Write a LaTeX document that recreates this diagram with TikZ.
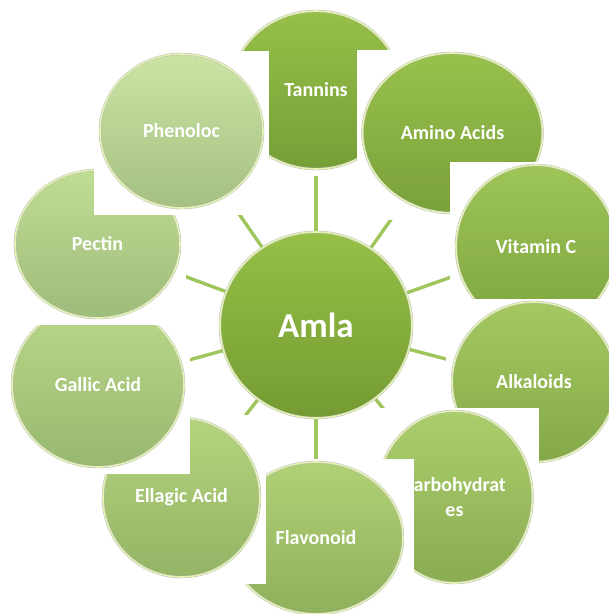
\documentclass[tikz,border=0pt]{standalone}
\usepackage{fontspec}
\setmainfont{Carlito}
\usetikzlibrary{shapes.geometric}
\pgfdeclarelayer{spokes}
\pgfsetlayers{spokes,main}

\definecolor{rim}{RGB}{228,242,180}
\definecolor{spokec}{RGB}{158,198,92}
\definecolor{amlatop}{RGB}{150,192,70}
\definecolor{amlabot}{RGB}{116,155,50}
\definecolor{tanninstop}{RGB}{150,192,72}
\definecolor{tanninsbot}{RGB}{118,158,55}
\definecolor{aminotop}{RGB}{152,193,76}
\definecolor{aminobot}{RGB}{122,160,58}
\definecolor{vitctop}{RGB}{158,197,86}
\definecolor{vitcbot}{RGB}{126,164,64}
\definecolor{alkatop}{RGB}{165,201,96}
\definecolor{alkabot}{RGB}{132,168,72}
\definecolor{carbotop}{RGB}{171,206,108}
\definecolor{carbobot}{RGB}{138,172,82}
\definecolor{flavtop}{RGB}{176,209,117}
\definecolor{flavbot}{RGB}{143,176,92}
\definecolor{ellagtop}{RGB}{180,212,126}
\definecolor{ellagbot}{RGB}{148,180,102}
\definecolor{gallictop}{RGB}{186,216,137}
\definecolor{gallicbot}{RGB}{152,184,112}
\definecolor{pectintop}{RGB}{192,221,148}
\definecolor{pectinbot}{RGB}{158,188,122}
\definecolor{phenoltop}{RGB}{203,228,163}
\definecolor{phenolbot}{RGB}{164,192,130}

\begin{document}
\begin{tikzpicture}[x=1pt,y=-1pt]
  \tikzstyle{box}=[rectangle,fill=white,inner sep=0pt]
  \tikzstyle{part}=[ellipse,draw=black!28,line width=0.4pt,double=rim,
              double distance=1.6pt,inner sep=0pt,text=white,align=center,
              font=\fontsize{20}{25}\selectfont\bfseries]
  \tikzstyle{spoke}=[draw=spokec,line width=3.4pt]
  \useasboundingbox (0,0) rectangle (609,614);

    \node [part,minimum width=192,minimum height=186,top color=amlatop,bottom color=amlabot,
           font=\fontsize{35}{40}\selectfont\bfseries] (amla) at (316,325) {Amla};

    % ring, clockwise from the top, each one over the last
    \node [box,minimum width=182,minimum height=168] (tanninsbox) at (316,92) {};
    \node [part,minimum width=170,minimum height=158,top color=tanninstop,bottom color=tanninsbot] (tannins) at (316,90) {Tannins};
    \node [box,minimum width=192,minimum height=170] (aminobox) at (452.5,135) {};
    \node [part,minimum width=180,minimum height=160,top color=aminotop,bottom color=aminobot] (amino) at (452.5,133) {Amino Acids};
    \node [box,minimum width=172,minimum height=174] (vitcbox) at (536,249) {};
    \node [part,minimum width=160,minimum height=164,top color=vitctop,bottom color=vitcbot] (vitc) at (536,247) {Vitamin C};
    \node [box,minimum width=176,minimum height=170] (alkabox) at (534,384) {};
    \node [part,minimum width=164,minimum height=160,top color=alkatop,bottom color=alkabot] (alka) at (534,382) {Alkaloids};
    \node [box,minimum width=168,minimum height=182] (carbobox) at (454.5,499) {};
    \node [part,minimum width=156,minimum height=172,top color=carbotop,bottom color=carbobot] (carbo) at (454.5,497) {Carbohydrat\\es};
    \node [box,minimum width=196,minimum height=162] (flavbox) at (316,540) {};
    \node [part,minimum width=174,minimum height=152,top color=flavtop,bottom color=flavbot] (flav) at (316,538) {Flavonoid};
    \node [box,minimum width=169,minimum height=169] (ellagbox) at (181.5,499.5) {};
    \node [part,minimum width=157,minimum height=159,top color=ellagtop,bottom color=ellagbot] (ellag) at (181.5,497.5) {Ellagic Acid};
    \node [box,minimum width=184,minimum height=174] (gallicbox) at (98,387) {};
    \node [part,minimum width=172,minimum height=164,top color=gallictop,bottom color=gallicbot] (gallic) at (98,385) {Gallic Acid};
    \node [box,minimum width=177,minimum height=158] (pectinbox) at (97.5,246) {};
    \node [part,minimum width=165,minimum height=148,top color=pectintop,bottom color=pectinbot] (pectin) at (97.5,244) {Pectin};
    \node [box,minimum width=175,minimum height=164] (phenolbox) at (181.5,133) {};
    \node [part,minimum width=163,minimum height=154,top color=phenoltop,bottom color=phenolbot] (phenol) at (181.5,131) {Phenoloc};

    \begin{pgfonlayer}{spokes}
      \foreach \n in {tannins,amino,vitc,alka,carbo,flav,ellag,gallic,pectin,phenol}
        \draw [spoke] (amla) -- (\n);
    \end{pgfonlayer}
\end{tikzpicture}
\end{document}
